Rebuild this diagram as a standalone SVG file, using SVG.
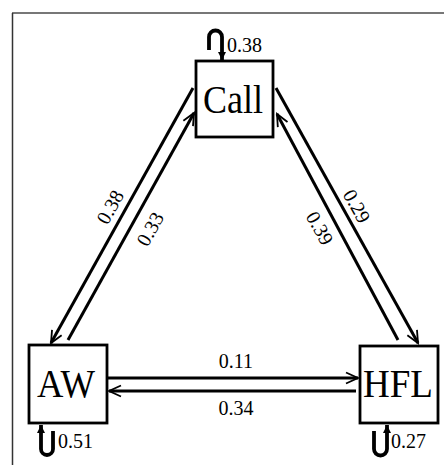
<svg xmlns="http://www.w3.org/2000/svg" width="444" height="465" viewBox="0 0 444 465">
<style>
.box{fill:#fff;stroke:#000;stroke-width:2.8}
.big{font-family:"Liberation Serif","Times New Roman",serif;font-size:40px;fill:#000;text-anchor:middle}
.lbl{font-family:"Liberation Serif","Times New Roman",serif;font-size:20px;fill:#000}
.edge{fill:none;stroke:#000;stroke-width:3;marker-end:url(#open)}
.loop{fill:none;stroke:#000;stroke-width:3.8;marker-end:url(#solid)}
</style>
<defs>
<marker id="open" markerWidth="16" markerHeight="14" refX="13" refY="7" orient="auto" markerUnits="userSpaceOnUse">
<path d="M1,1.5 L13,7 L1,12.5" fill="none" stroke="#000" stroke-width="1.8"/>
</marker>
<marker id="solid" markerWidth="10" markerHeight="10" refX="8" refY="4" orient="auto" markerUnits="userSpaceOnUse">
<path d="M0,0 L8,4 L0,8 Z" fill="#000"/>
</marker>
</defs>
<rect width="444" height="465" fill="#fff"/>
<line x1="12" y1="13" x2="444" y2="13" stroke="#777" stroke-width="1.8"/>
<line x1="12.5" y1="13" x2="12.5" y2="465" stroke="#333" stroke-width="1.5"/>
<g id="connectors">
<line class="edge" x1="193" y1="88" x2="51" y2="343"/>
<line class="edge" x1="68" y1="340" x2="194" y2="113"/>
<line class="edge" x1="276" y1="88" x2="418" y2="343"/>
<line class="edge" x1="398" y1="340" x2="277" y2="114"/>
<line class="edge" x1="108" y1="378" x2="358" y2="378"/>
<line class="edge" x1="356" y1="391" x2="109" y2="391"/>
<g transform="translate(110,207) rotate(-60.8)"><text class="lbl" x="0" y="7" text-anchor="middle">0.38</text></g>
<g transform="translate(150,229) rotate(-60.8)"><text class="lbl" x="0" y="7" text-anchor="middle">0.33</text></g>
<g transform="translate(357,206) rotate(60.8)"><text class="lbl" x="0" y="7" text-anchor="middle">0.29</text></g>
<g transform="translate(320,228) rotate(60.8)"><text class="lbl" x="0" y="7" text-anchor="middle">0.39</text></g>
<text class="lbl" x="236" y="368" text-anchor="middle">0.11</text>
<text class="lbl" x="236" y="415" text-anchor="middle">0.34</text>
</g>
<g id="node-call">
<rect class="box" x="196" y="61" width="77" height="76"/>
<text class="big" x="233" y="113" textLength="60" lengthAdjust="spacingAndGlyphs">Call</text>
<path class="loop" d="M209,50 L209,37 A6.5,6.5 0 0 1 222,37 L222,60"/>
<text class="lbl" x="227" y="52">0.38</text>
</g>
<g id="node-aw">
<rect class="box" x="29" y="345" width="78" height="78"/>
<text class="big" x="66" y="397" textLength="58" lengthAdjust="spacingAndGlyphs">AW</text>
<path class="loop" d="M53,431 L53,449 A6,6 0 0 1 41,449 L41,425"/>
<text class="lbl" x="58" y="448">0.51</text>
</g>
<g id="node-hfl">
<rect class="box" x="360" y="346" width="78" height="77"/>
<text class="big" x="398" y="397" textLength="70" lengthAdjust="spacingAndGlyphs">HFL</text>
<path class="loop" d="M374,431 L374,449 A6.5,6.5 0 0 0 387,449 L387,425"/>
<text class="lbl" x="391" y="448">0.27</text>
</g>
</svg>
